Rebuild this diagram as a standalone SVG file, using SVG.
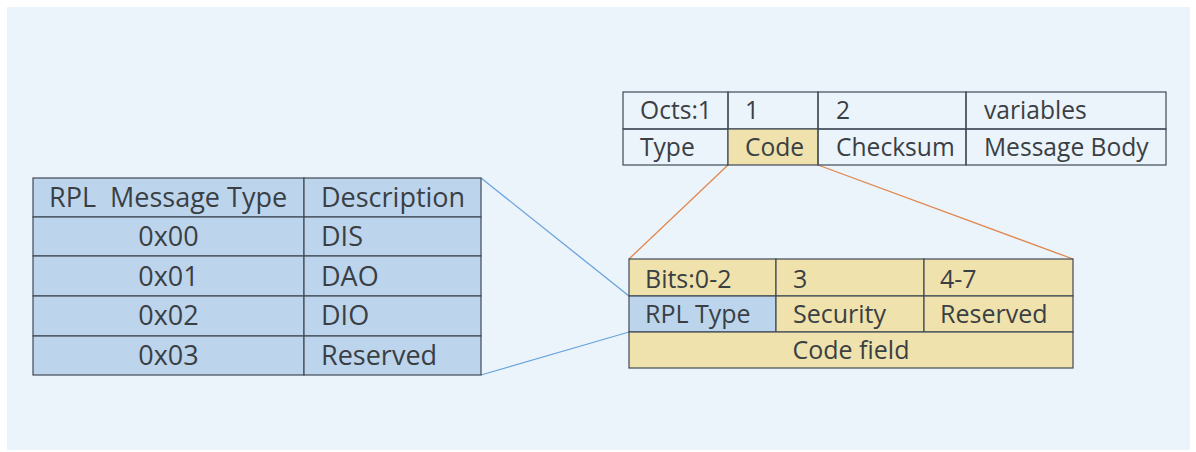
<svg xmlns="http://www.w3.org/2000/svg" width="1196" height="452" viewBox="0 0 1196 452">
  <style>
    .cell { stroke: #3f4a55; stroke-width: 1.2; }
    .none { fill: none; }
    .tan { fill: #efe2ad; }
    .blue { fill: #bdd5ec; }
    text { font-family: "Open Sans", "Noto Sans", sans-serif; font-size: 24.6px; fill: #3a3f44; white-space: pre; }
    #rpl-type-table text { font-size: 27px; }
    #code-field text { font-size: 25px; }
    .mid { text-anchor: middle; }
    .oline { stroke: #e0874c; stroke-width: 1.3; fill: none; }
    .bline { stroke: #6aa4dc; stroke-width: 1.3; fill: none; }
  </style>
  <rect x="7" y="7" width="1183" height="443" fill="#ebf3fb"/>

  <g id="connectors">
    <line class="oline" x1="728" y1="165" x2="629" y2="259"/>
    <line class="oline" x1="818" y1="165" x2="1073" y2="259"/>
    <line class="bline" x1="481" y1="178" x2="629" y2="296"/>
    <line class="bline" x1="481" y1="375" x2="629" y2="332"/>
  </g>

  <g id="icmp-header">
    <rect class="cell none" x="623" y="92" width="105" height="37"/>
    <rect class="cell none" x="728" y="92" width="90" height="37"/>
    <rect class="cell none" x="818" y="92" width="148" height="37"/>
    <rect class="cell none" x="966" y="92" width="200" height="37"/>
    <rect class="cell none" x="623" y="129" width="105" height="36"/>
    <rect class="cell tan" x="728" y="129" width="90" height="36"/>
    <rect class="cell none" x="818" y="129" width="148" height="36"/>
    <rect class="cell none" x="966" y="129" width="200" height="36"/>
    <text x="640" y="119">Octs:1</text>
    <text x="745" y="119">1</text>
    <text x="836" y="119">2</text>
    <text x="984" y="119">variables</text>
    <text x="640" y="156">Type</text>
    <text x="745" y="156">Code</text>
    <text x="836" y="156">Checksum</text>
    <text x="984" y="156">Message Body</text>
  </g>

  <g id="rpl-type-table">
    <rect class="cell blue" x="33" y="178" width="271" height="39"/>
    <rect class="cell blue" x="304" y="178" width="177" height="39"/>
    <rect class="cell blue" x="33" y="217" width="271" height="39"/>
    <rect class="cell blue" x="304" y="217" width="177" height="39"/>
    <rect class="cell blue" x="33" y="256" width="271" height="40"/>
    <rect class="cell blue" x="304" y="256" width="177" height="40"/>
    <rect class="cell blue" x="33" y="296" width="271" height="40"/>
    <rect class="cell blue" x="304" y="296" width="177" height="40"/>
    <rect class="cell blue" x="33" y="336" width="271" height="39"/>
    <rect class="cell blue" x="304" y="336" width="177" height="39"/>
    <text x="49" y="207">RPL  Message Type</text>
    <text x="321" y="207">Description</text>
    <text class="mid" x="168.5" y="246">0x00</text>
    <text x="321" y="246">DIS</text>
    <text class="mid" x="168.5" y="286">0x01</text>
    <text x="321" y="286">DAO</text>
    <text class="mid" x="168.5" y="325">0x02</text>
    <text x="321" y="325">DIO</text>
    <text class="mid" x="168.5" y="365">0x03</text>
    <text x="321" y="365">Reserved</text>
  </g>

  <g id="code-field">
    <rect class="cell tan" x="629" y="259" width="147" height="37"/>
    <rect class="cell tan" x="776" y="259" width="148" height="37"/>
    <rect class="cell tan" x="924" y="259" width="149" height="37"/>
    <rect class="cell blue" x="629" y="296" width="147" height="36"/>
    <rect class="cell tan" x="776" y="296" width="148" height="36"/>
    <rect class="cell tan" x="924" y="296" width="149" height="36"/>
    <rect class="cell tan" x="629" y="332" width="444" height="36"/>
    <text x="645" y="288">Bits:0-2</text>
    <text x="793" y="288">3</text>
    <text x="940" y="288">4-7</text>
    <text x="645" y="323">RPL Type</text>
    <text x="793" y="323">Security</text>
    <text x="940" y="323">Reserved</text>
    <text class="mid" x="851" y="359">Code field</text>
  </g>
</svg>
